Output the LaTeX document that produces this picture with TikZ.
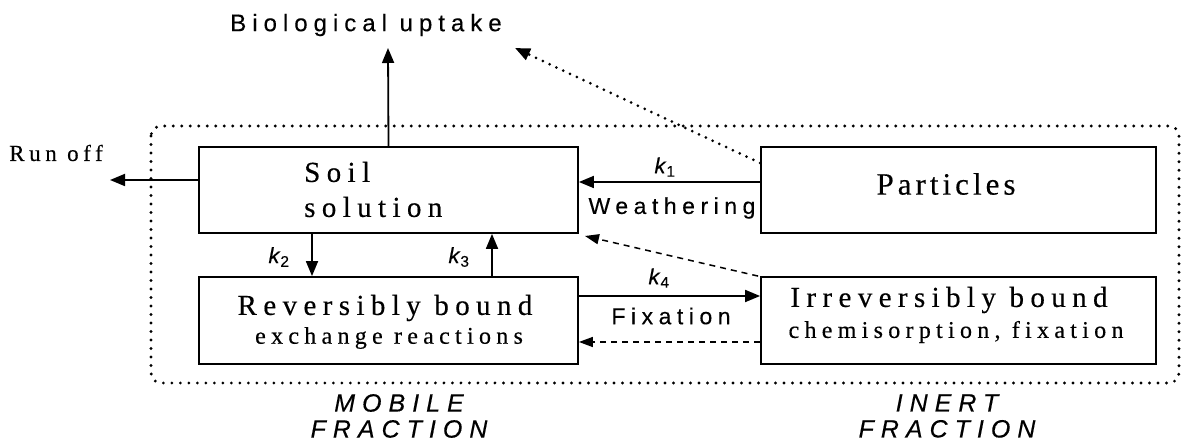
\documentclass[tikz,border=0pt]{standalone}
\usepackage{fontspec}
\setmainfont{Liberation Serif}
\setsansfont{Liberation Sans}
\newfontfamily\boxfont[LetterSpace=22,FakeBold=0.4]{Liberation Serif}
\newfontfamily\partfont[LetterSpace=13,FakeBold=0.4]{Liberation Serif}
\newfontfamily\runfont[LetterSpace=20,FakeBold=0.4]{Liberation Serif}
\newfontfamily\labfont[LetterSpace=24,FakeBold=0.3]{Liberation Sans}
\newfontfamily\ksans[FakeBold=0.3]{Liberation Sans}
\newfontfamily\biofont[LetterSpace=25,FakeBold=0.3]{Liberation Sans}
\newfontfamily\fracfont[LetterSpace=28,FakeBold=0.3]{Liberation Sans}
\usetikzlibrary{arrows.meta}
\tikzset{
  box/.style={draw, line width=1.8bp, rectangle, inner sep=0pt},
  arr/.style={line width=1.8bp, -{Triangle[length=15bp,width=12bp]}},
  dasharr/.style={line width=1.5bp, dash pattern=on 6bp off 5bp, -{Triangle[length=14bp,width=10bp]}},
  dotarr/.style={line width=3bp, line cap=round, dash pattern=on 0bp off 7.5bp, -{Triangle[length=15bp,width=12bp]}},
  big/.style={font=\fontsize{29bp}{31bp}\selectfont\boxfont, inner sep=0pt},
  small/.style={font=\fontsize{24bp}{26bp}\selectfont\boxfont, inner sep=0pt},
  lab/.style={font=\fontsize{23bp}{25bp}\selectfont\labfont, inner sep=0pt},
  klab/.style={font=\fontsize{22bp}{24bp}\selectfont\ksans, inner sep=0pt},
  frac/.style={font=\fontsize{25bp}{27bp}\selectfont\fracfont\itshape, inner sep=0pt, align=center}
}
\begin{document}
\begin{tikzpicture}[x=1bp,y=-1bp]
\useasboundingbox (0,0) rectangle (1185,443);
% enclosing dotted frame
\draw[line width=3.2bp, line cap=round, dash pattern=on 0bp off 8.5bp, rounded corners=10bp] (151,126) rectangle (1179,383);
% boxes
\node[box, minimum width=379bp, minimum height=86bp] (soil) at (388.5,190) {};
\node[box, minimum width=395bp, minimum height=86bp] (part) at (958.5,190) {};
\node[box, minimum width=379bp, minimum height=87bp] (rev) at (388.5,320.5) {};
\node[box, minimum width=395bp, minimum height=87bp] (irr) at (958.5,320.5) {};
% box texts
\node[big, anchor=west] (t1) at (304,172) {Soil};
\node[big, anchor=west] (t2) at (304,207) {solution};
\node[font=\fontsize{31bp}{33bp}\selectfont\partfont, inner sep=0pt] (t3) at (946,184) {Particles};
\node[big] (t4) at (385,308) {Reversibly bound};
\node[small] (t5) at (389,338) {exchange reactions};
\node[big] (t6) at (949,300) {Irreversibly bound};
\node[small] (t7) at (956,332) {chemisorption, fixation};
% outside labels
\node[font=\fontsize{24bp}{26bp}\selectfont\biofont, inner sep=0pt] (bio) at (366,25) {Biological uptake};
\node[font=\fontsize{23bp}{25bp}\selectfont\runfont, inner sep=0pt] (run) at (56,153) {Run off};
\node[klab] (k1) at (665,167) {\textit{k}\textsubscript{1}};
\node[lab] (weath) at (672,208) {Weathering};
\node[klab] (k2) at (279,257) {\textit{k}\textsubscript{2}};
\node[klab] (k3) at (459,257) {\textit{k}\textsubscript{3}};
\node[klab] (k4) at (659,278) {\textit{k}\textsubscript{4}};
\node[lab] (fix) at (671,316) {Fixation};
\node[frac] (mob) at (399,416) {MOBILE\\[-1bp]FRACTION};
\node[frac] (ine) at (947,416) {INERT\\[-1bp]FRACTION};
% coordinates
\coordinate (uptip) at (388,48);
\coordinate (runtip) at (110,180);
\coordinate (diagtip) at (515,48);
\coordinate (dashtip) at (585,236);
% connectors
\draw[arr] (soil.north) -- (uptip);
\draw[arr] (soil.west |- runtip) -- (runtip);
\draw[dotarr] ([yshift=27bp]part.west) -- (diagtip);
\draw[arr] ([yshift=8bp]part.west) -- ([yshift=8bp]soil.east);
\draw[dasharr] ([xshift=-2bp]irr.north west) -- (dashtip);
\draw[arr] (soil.south -| 312,0) -- (rev.north -| 312,0);
\draw[arr] (rev.north -| 492,0) -- (soil.south -| 492,0);
\draw[arr] (rev.east |- 0,296) -- (irr.west |- 0,296);
\draw[dasharr] (irr.west |- 0,342) -- (rev.east |- 0,342);
\end{tikzpicture}
\end{document}
